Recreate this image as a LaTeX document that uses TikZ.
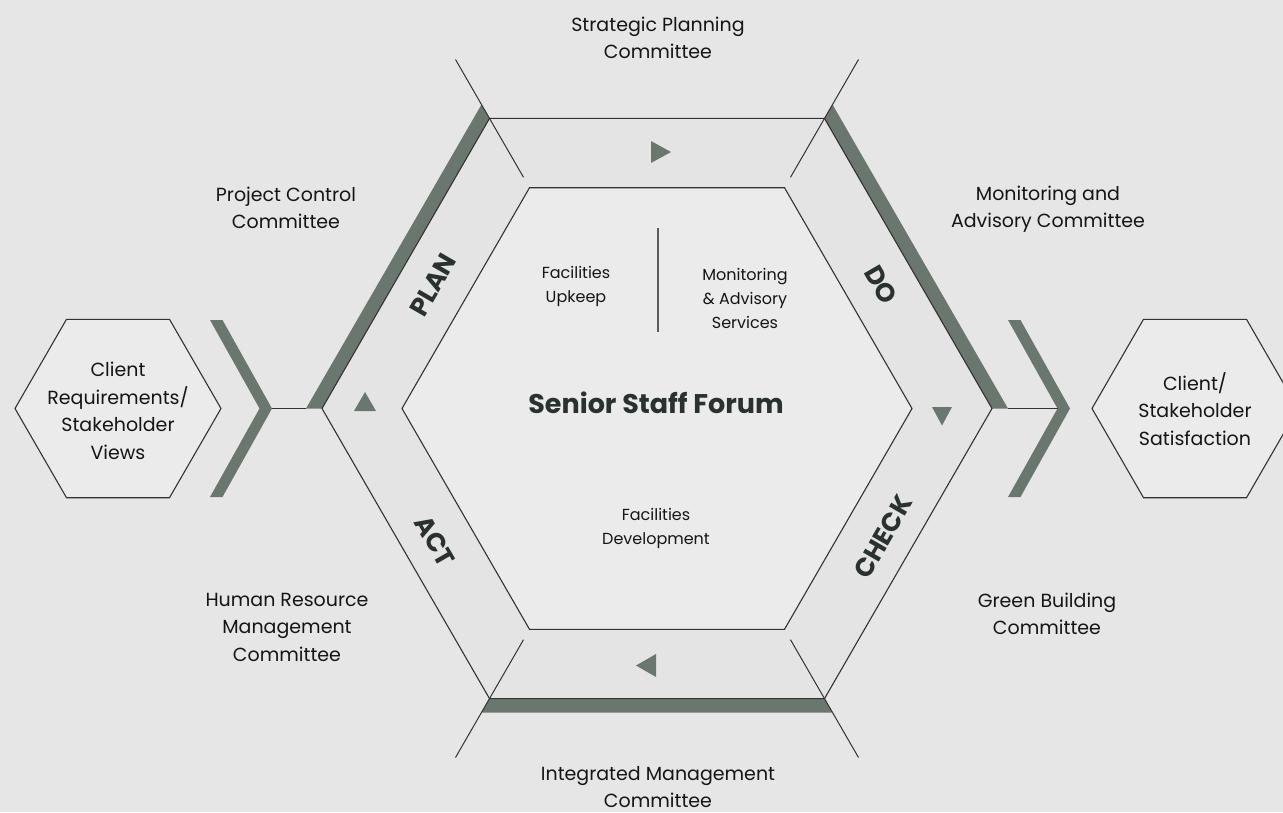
\documentclass[tikz,border=0pt]{standalone}
\usepackage{fontspec}
\setmainfont{Poppins}
\usetikzlibrary{shapes.geometric}
\definecolor{bg}{HTML}{E6E6E6}
\definecolor{ringfill}{HTML}{E4E4E4}
\definecolor{corefill}{HTML}{EBEBEB}
\definecolor{band}{HTML}{6A776F}
\definecolor{edge}{HTML}{333333}
\definecolor{ink}{HTML}{151515}
\definecolor{darkink}{HTML}{2A322E}
\begin{document}
\begin{tikzpicture}[x=1pt,y=-1pt,
  hexline/.style={draw=edge,line width=1.1pt,line join=miter},
  spoke/.style={draw=edge,line width=1pt},
  bandfill/.style={fill=band},
  marker/.style={fill=band},
  committee/.style={align=center,text=ink,font=\fontsize{19}{27.5}\selectfont,inner sep=0pt},
  area/.style={align=center,text=ink,font=\fontsize{16}{24}\selectfont,inner sep=0pt},
  phase/.style={text=darkink,font=\fontsize{26}{26}\selectfont\bfseries,inner sep=0pt},
  endhex/.style={draw=edge,line width=1.1pt,fill=corefill,line join=miter},
]
\path[clip] (0,0) rectangle (1283,812);
\fill[bg] (0,0) rectangle (1283,812);

% outer ring corners (R=335), inner core corners (R=255), band edge (R=351)
\coordinate (o0) at (992,408.5);   \coordinate (o1) at (824.5,118.4);
\coordinate (o2) at (489.5,118.4); \coordinate (o3) at (322,408.5);
\coordinate (o4) at (489.5,698.6); \coordinate (o5) at (824.5,698.6);
\coordinate (i0) at (912,408.5);   \coordinate (i1) at (784.5,187.7);
\coordinate (i2) at (529.5,187.7); \coordinate (i3) at (402,408.5);
\coordinate (i4) at (529.5,629.3); \coordinate (i5) at (784.5,629.3);
\coordinate (b0) at (1008,408.5);  \coordinate (b1) at (832.5,104.5);
\coordinate (b2) at (481.5,104.5); \coordinate (b3) at (306,408.5);
\coordinate (b4) at (481.5,712.5); \coordinate (b5) at (832.5,712.5);

% ring and core
\fill[ringfill] (o0)--(o1)--(o2)--(o3)--(o4)--(o5)--cycle;
\fill[corefill] (i0)--(i1)--(i2)--(i3)--(i4)--(i5)--cycle;

% heavy bands on PLAN, DO and the bottom side
\fill[bandfill] (o3)--(o2)--(b2)--(b3)--cycle;
\fill[bandfill] (o1)--(o0)--(b0)--(b1)--cycle;
\fill[bandfill] (o4)--(o5)--(b5)--(b4)--cycle;

\path[hexline] (o0)--(o1)--(o2)--(o3)--(o4)--(o5)--cycle;
\path[hexline] (i0)--(i1)--(i2)--(i3)--(i4)--(i5)--cycle;

% radial dividers through the outer corners
\coordinate (s1a) at (790.5,177.3); \coordinate (s1b) at (858.5,59.5);
\coordinate (s2a) at (523.5,177.3); \coordinate (s2b) at (455.5,59.5);
\coordinate (s4a) at (523.5,639.7); \coordinate (s4b) at (455.5,757.5);
\coordinate (s5a) at (790.5,639.7); \coordinate (s5b) at (858.5,757.5);
\path[spoke] (s1a)--(s1b);
\path[spoke] (s2a)--(s2b);
\path[spoke] (s4a)--(s4b);
\path[spoke] (s5a)--(s5b);

% flow markers
\fill[marker] (651,141)--(671,152)--(651,163)--cycle;
\fill[marker] (932,407)--(952,407)--(942,425.5)--cycle;
\fill[marker] (656,654)--(636,665.5)--(656,677)--cycle;
\fill[marker] (354,411)--(376,411)--(365,392)--cycle;

% chevrons
\fill[band] (210,320)--(222.5,320)--(272,408.5)--(222.5,497)--(210,497)--(259.5,408.5)--cycle;
\fill[band] (1008,320)--(1020.5,320)--(1070,408.5)--(1020.5,497)--(1008,497)--(1057.5,408.5)--cycle;
\coordinate (chevL) at (272,408.5);
\coordinate (chevR) at (1057.5,408.5);
\path[spoke] (chevL)--(b3);
\path[spoke] (b0)--(chevR);

% end hexagons (R=103)
\path[endhex] (221,408.5)--(169.5,319.3)--(66.5,319.3)--(15,408.5)--(66.5,497.7)--(169.5,497.7)--cycle;
\path[endhex] (1298,408.5)--(1246.5,319.3)--(1143.5,319.3)--(1092,408.5)--(1143.5,497.7)--(1246.5,497.7)--cycle;
\node[committee] (input) at (118,411) {Client\\Requirements/\\Stakeholder\\Views};
\node[committee] (output) at (1195,409) {Client/\\Stakeholder\\Satisfaction};

% core
\draw[draw=edge!80,line width=1.3pt] (658,228) -- (658,332);
\node[area] (upkeep) at (576,286) {Facilities\\Upkeep};
\node[area] (advisory) at (745,298) {Monitoring\\\& Advisory\\Services};
\node[area] (develop) at (656,528) {Facilities\\Development};
\node[text=darkink,font=\fontsize{27}{27}\selectfont\bfseries,inner sep=0pt] (forum) at (656,403) {Senior Staff Forum};

% phases
\node[phase,rotate=60] (plan) at (433,285) {PLAN};
\node[phase,rotate=-60] (do) at (881,285) {DO};
\node[phase,rotate=60] (check) at (883,537) {CHECK};
\node[phase,rotate=-60] (act) at (435,541) {ACT};

% committees
\node[committee] (spc) at (658,38) {Strategic Planning\\Committee};
\node[committee] (pcc) at (286,208) {Project Control\\Committee};
\node[committee] (mac) at (1048,209) {Monitoring and\\Advisory Committee};
\node[committee] (hrm) at (287,627) {Human Resource\\Management\\Committee};
\node[committee] (gbc) at (1047,614) {Green Building\\Committee};
\node[committee] (imc) at (658,787) {Integrated Management\\Committee};
\end{tikzpicture}
\end{document}
